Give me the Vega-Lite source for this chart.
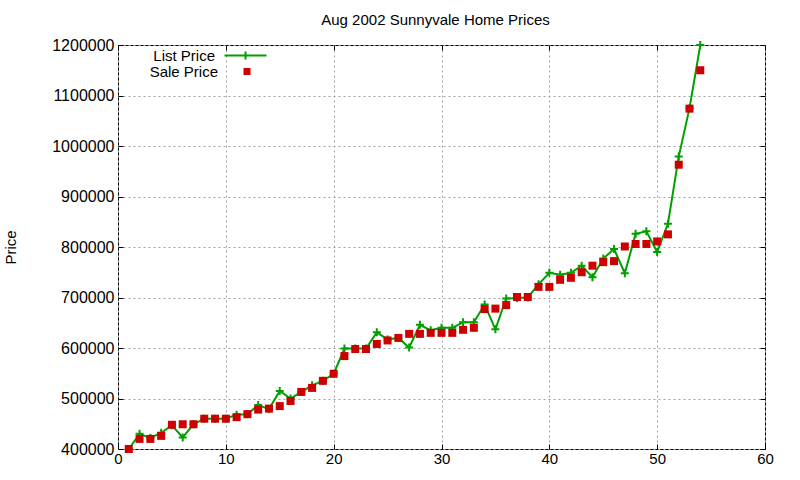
{
  "$schema": "https://vega.github.io/schema/vega-lite/v6.json",
  "width": 647,
  "height": 404,
  "autosize": {"type": "none"},
  "padding": {"left": 118, "top": 45, "right": 35, "bottom": 31},
  "background": "white",
  "title": {
    "text": "Aug 2002 Sunnyvale Home Prices",
    "font": "Liberation Sans",
    "fontSize": 15,
    "fontWeight": "normal",
    "color": "black",
    "anchor": "middle",
    "frame": "group",
    "baseline": "alphabetic",
    "offset": -3,
    "dx": -6
  },
  "config": {
    "view": {"stroke": "black", "strokeWidth": 1},
    "font": "Liberation Sans",
    "axis": {
      "domain": false,
      "tickColor": "black",
      "tickSize": -5,
      "labelFont": "Liberation Sans",
      "labelFontSize": 15,
      "labelColor": "black",
      "gridColor": "#a0a0a0",
      "gridDash": [2, 3],
      "gridWidth": 1,
      "titleFont": "Liberation Sans",
      "titleFontSize": 15,
      "titleFontWeight": "normal",
      "titleColor": "black"
    },
    "legend": {
      "orient": "none",
      "title": null,
      "padding": 0,
      "symbolOffset": 0,
      "symbolOpacity": 1,
      "labelAlign": "right",
      "labelFont": "Liberation Sans",
      "labelFontSize": 15,
      "labelColor": "black"
    }
  },
  "data": {
    "values": [
      {"n": 1, "List Price": 400000, "Sale Price": 400000},
      {"n": 2, "List Price": 430000, "Sale Price": 420000},
      {"n": 3, "List Price": 422000, "Sale Price": 420000},
      {"n": 4, "List Price": 432000, "Sale Price": 426000},
      {"n": 5, "List Price": 447000, "Sale Price": 448000},
      {"n": 6, "List Price": 423000, "Sale Price": 449000},
      {"n": 7, "List Price": 449000, "Sale Price": 449000},
      {"n": 8, "List Price": 460000, "Sale Price": 460000},
      {"n": 9, "List Price": 460000, "Sale Price": 460000},
      {"n": 10, "List Price": 460000, "Sale Price": 460000},
      {"n": 11, "List Price": 468000, "Sale Price": 463000},
      {"n": 12, "List Price": 469000, "Sale Price": 469000},
      {"n": 13, "List Price": 487000, "Sale Price": 478000},
      {"n": 14, "List Price": 479000, "Sale Price": 480000},
      {"n": 15, "List Price": 515000, "Sale Price": 485000},
      {"n": 16, "List Price": 500000, "Sale Price": 495000},
      {"n": 17, "List Price": 513000, "Sale Price": 513000},
      {"n": 18, "List Price": 526000, "Sale Price": 521000},
      {"n": 19, "List Price": 535000, "Sale Price": 535000},
      {"n": 20, "List Price": 549000, "Sale Price": 549000},
      {"n": 21, "List Price": 599000, "Sale Price": 584000},
      {"n": 22, "List Price": 599000, "Sale Price": 598000},
      {"n": 23, "List Price": 599000, "Sale Price": 598000},
      {"n": 24, "List Price": 631000, "Sale Price": 608000},
      {"n": 25, "List Price": 617000, "Sale Price": 615000},
      {"n": 26, "List Price": 620000, "Sale Price": 620000},
      {"n": 27, "List Price": 601000, "Sale Price": 628000},
      {"n": 28, "List Price": 646000, "Sale Price": 628000},
      {"n": 29, "List Price": 635000, "Sale Price": 630000},
      {"n": 30, "List Price": 640000, "Sale Price": 630000},
      {"n": 31, "List Price": 640000, "Sale Price": 630000},
      {"n": 32, "List Price": 651000, "Sale Price": 636000},
      {"n": 33, "List Price": 651000, "Sale Price": 640000},
      {"n": 34, "List Price": 686000, "Sale Price": 677000},
      {"n": 35, "List Price": 637000, "Sale Price": 678000},
      {"n": 36, "List Price": 698000, "Sale Price": 685000},
      {"n": 37, "List Price": 699000, "Sale Price": 701000},
      {"n": 38, "List Price": 700000, "Sale Price": 701000},
      {"n": 39, "List Price": 726000, "Sale Price": 721000},
      {"n": 40, "List Price": 749000, "Sale Price": 721000},
      {"n": 41, "List Price": 745000, "Sale Price": 735000},
      {"n": 42, "List Price": 749000, "Sale Price": 739000},
      {"n": 43, "List Price": 763000, "Sale Price": 750000},
      {"n": 44, "List Price": 740000, "Sale Price": 763000},
      {"n": 45, "List Price": 777000, "Sale Price": 770000},
      {"n": 46, "List Price": 796000, "Sale Price": 772000},
      {"n": 47, "List Price": 748000, "Sale Price": 801000},
      {"n": 48, "List Price": 826000, "Sale Price": 806000},
      {"n": 49, "List Price": 831000, "Sale Price": 806000},
      {"n": 50, "List Price": 790000, "Sale Price": 811000},
      {"n": 51, "List Price": 846000, "Sale Price": 825000},
      {"n": 52, "List Price": 979000, "Sale Price": 963000},
      {"n": 53, "List Price": 1075000, "Sale Price": 1074000},
      {"n": 54, "List Price": 1200000, "Sale Price": 1150000}
    ]
  },
  "layer": [
    {
      "mark": {"type": "line", "strokeWidth": 2},
      "encoding": {
        "x": {
          "field": "n",
          "type": "quantitative",
          "scale": {"domain": [0, 60], "nice": false, "zero": false},
          "axis": {
            "orient": "bottom",
            "values": [0, 10, 20, 30, 40, 50, 60],
            "grid": true,
            "title": null,
            "labelPadding": 7,
            "labelFlush": false
          }
        },
        "y": {
          "field": "List Price",
          "type": "quantitative",
          "scale": {"domain": [400000, 1200000], "nice": false, "zero": false},
          "axis": {
            "orient": "left",
            "values": [400000, 500000, 600000, 700000, 800000, 900000, 1000000, 1100000, 1200000],
            "format": "d",
            "grid": true,
            "labelPadding": 9,
            "labelFontSize": 16,
            "labelFlush": false,
            "title": "Price",
            "titleAngle": -90,
            "titleX": -103,
            "titleY": 202,
            "titleAlign": "center",
            "titleBaseline": "alphabetic"
          }
        },
        "color": {
          "datum": "List Price",
          "type": "nominal",
          "scale": {"range": ["#00a000"]},
          "legend": {
            "legendX": 120,
            "legendY": 3,
            "symbolType": "M-5.25,0H5.25M0,-1V1",
            "symbolSize": 64,
            "symbolStrokeWidth": 2,
            "symbolStrokeColor": "#00a000",
            "symbolFillColor": "transparent",
            "labelOffset": -38
          }
        }
      }
    },
    {
      "mark": {
        "type": "point",
        "shape": "M-1,0H1M0,-1V1",
        "filled": false,
        "stroke": "#00a000",
        "strokeWidth": 2,
        "size": 64,
        "opacity": 1
      },
      "encoding": {
        "x": {
          "field": "n",
          "type": "quantitative",
          "scale": {"domain": [0, 60], "nice": false, "zero": false},
          "axis": {
            "orient": "top",
            "values": [0, 10, 20, 30, 40, 50, 60],
            "labels": false,
            "grid": false,
            "title": null
          }
        },
        "y": {
          "field": "List Price",
          "type": "quantitative",
          "scale": {"domain": [400000, 1200000], "nice": false, "zero": false},
          "axis": {
            "orient": "right",
            "values": [400000, 500000, 600000, 700000, 800000, 900000, 1000000, 1100000, 1200000],
            "labels": false,
            "grid": false,
            "title": null
          }
        }
      }
    },
    {
      "mark": {"type": "point", "filled": true, "color": "#cc0000", "size": 64, "opacity": 1},
      "encoding": {
        "x": {
          "field": "n",
          "type": "quantitative",
          "scale": {"domain": [0, 60], "nice": false, "zero": false},
          "axis": null
        },
        "y": {
          "field": "Sale Price",
          "type": "quantitative",
          "scale": {"domain": [400000, 1200000], "nice": false, "zero": false},
          "axis": null
        },
        "shape": {
          "datum": "Sale Price",
          "type": "nominal",
          "scale": {"range": ["square"]},
          "legend": {
            "legendX": 121.5,
            "legendY": 19,
            "symbolSize": 49,
            "symbolStrokeWidth": 0,
            "symbolFillColor": "#cc0000",
            "labelOffset": -36.5
          }
        }
      }
    }
  ],
  "resolve": {"axis": {"x": "independent", "y": "independent"}}
}
